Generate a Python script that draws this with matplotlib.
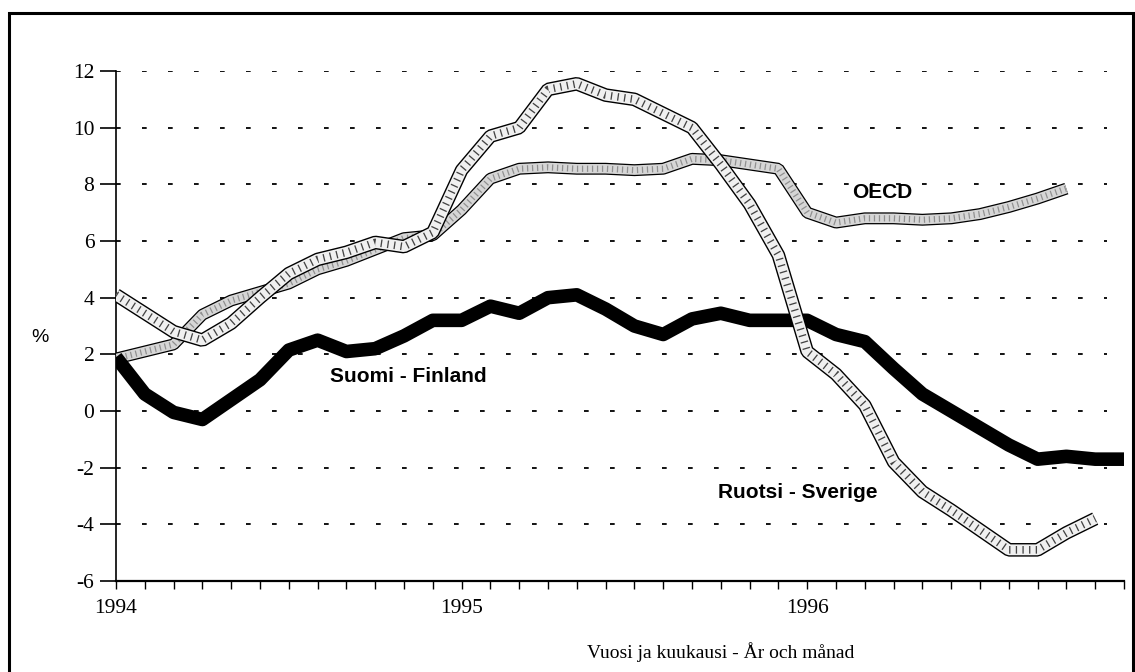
import numpy as np
import matplotlib
matplotlib.use('Agg')
import matplotlib.pyplot as plt
from matplotlib.patches import Rectangle

# monthly values, Jan 1994 onwards (%)
finland = [1.9, 0.6, -0.05, -0.3, 0.4, 1.1, 2.15, 2.5, 2.1, 2.2, 2.65, 3.2,
           3.2, 3.7, 3.45, 4.0, 4.1, 3.6, 3.0, 2.7, 3.25, 3.45, 3.2, 3.2,
           3.2, 2.7, 2.45, 1.5, 0.6, 0.0, -0.6, -1.2, -1.7, -1.6, -1.7, -1.7]
sweden = [4.1, 3.45, 2.8, 2.5, 3.1, 4.0, 4.85, 5.35, 5.6, 5.95, 5.8, 6.3,
          8.5, 9.7, 10.0, 11.35, 11.55, 11.15, 11.0, 10.5, 10.0, 8.7, 7.3, 5.5,
          2.1, 1.3, 0.2, -1.8, -2.85, -3.5, -4.2, -4.9, -4.9, -4.3, -3.8]
oecd = [1.85, 2.1, 2.35, 3.4, 3.9, 4.2, 4.5, 5.0, 5.3, 5.7, 6.1, 6.2,
        7.1, 8.2, 8.55, 8.6, 8.55, 8.55, 8.5, 8.55, 8.9, 8.85, 8.7, 8.55,
        7.0, 6.65, 6.8, 6.8, 6.75, 6.8, 6.95, 7.2, 7.5, 7.85]

n_months = 36
year_ticks = [0, 12, 24]
year_labels = ['1994', '1995', '1996']
y_ticks = list(range(-6, 13, 2))

W, H = 1135, 672
fig = plt.figure(figsize=(W / 100, H / 100), dpi=100)
ax = fig.add_axes([116 / W, 1 - 581 / H, (1124 - 116) / W, (581 - 71) / H])

# dotted grid
ax.hlines([v for v in y_ticks if v > -6], 0, 34.4, colors='black',
          linewidth=1.3, linestyles=(0, (2.6, 11.8)), zorder=1)

x_oecd = np.arange(len(oecd))
x_swe = np.arange(len(sweden))
x_fin = np.arange(len(finland))

# OECD: outlined stippled band
ax.plot(x_oecd, oecd, color='black', lw=8.6, solid_capstyle='butt',
        solid_joinstyle='bevel', zorder=3)
ax.plot(x_oecd, oecd, color='#d6d6d6', lw=6.8, solid_capstyle='butt',
        solid_joinstyle='bevel', zorder=3.1)
ax.plot(x_oecd, oecd, color='#909090', lw=4.5, linestyle=(0, (0.2, 0.6)),
        dash_capstyle='butt', zorder=3.2)

# Finland: thick black
ax.plot(x_fin, finland, color='black', lw=9.8, solid_capstyle='butt',
        solid_joinstyle='round', zorder=4)

# Sweden: outlined hatched band
ax.plot(x_swe, sweden, color='black', lw=9.8, solid_capstyle='butt',
        solid_joinstyle='bevel', zorder=5)
ax.plot(x_swe, sweden, color='#f0f0f0', lw=7.8, solid_capstyle='butt',
        solid_joinstyle='bevel', zorder=5.1)
ax.plot(x_swe, sweden, color='#444444', lw=5.5, linestyle=(0, (0.17, 0.7)),
        dash_capstyle='butt', zorder=5.2)

lab_kw = dict(fontsize=15, fontweight='bold', family='Liberation Sans',
              va='center', ha='left', zorder=6)
ax.text(7.43, 1.2, 'Suomi - Finland', **lab_kw)
ax.text(20.9, -2.86, 'Ruotsi - Sverige', **lab_kw)
ax.text(25.55, 7.72, 'OECD', **lab_kw)

ax.set_xlim(0, n_months - 1)
ax.set_ylim(-6, 12)
for s in ['top', 'right']:
    ax.spines[s].set_visible(False)
ax.spines['left'].set_linewidth(1.2)
ax.spines['bottom'].set_linewidth(1.6)

ax.set_yticks(y_ticks)
ax.set_yticklabels([str(v) for v in y_ticks], family='Liberation Serif', fontsize=15.5)
ax.tick_params(axis='y', direction='out', length=11.5, width=1.2, pad=4)

ax.set_xticks(range(n_months))
ax.set_xticklabels([year_labels[year_ticks.index(m)] if m in year_ticks else ''
                    for m in range(n_months)], family='Liberation Serif', fontsize=15.5)
ax.tick_params(axis='x', direction='out', length=6, width=1.0, pad=7)

fig.text(40 / W, 1 - 338 / H, '%', fontsize=14, family='Liberation Sans',
         ha='center', va='center')
fig.text(721 / W, 1 - 652 / H, 'Vuosi ja kuukausi - År och månad',
         fontsize=14, family='Liberation Serif', ha='center', va='center')

# outer frame
fig.patches.append(Rectangle((8.5 / W, -0.05), (1133 - 8.5) / W, 1.05 - 13 / H,
                             transform=fig.transFigure, fill=False,
                             edgecolor='black', linewidth=2.2))

fig.savefig('out.png', dpi=100)
